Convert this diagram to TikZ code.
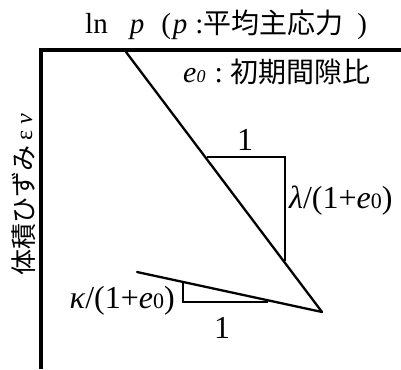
\documentclass[tikz,border=0pt]{standalone}
\usepackage{fontspec}
\setmainfont{Liberation Serif}
\newfontfamily\jp{Noto Sans CJK JP}
\usetikzlibrary{positioning,calc}

\begin{document}
\begin{tikzpicture}[
  x=1pt, y=-1pt,
  axis/.style={line width=4.5pt},
  curve/.style={line width=2.3pt, line cap=round},
  leg/.style={line width=1.1pt},
  lbl/.style={inner sep=0pt, font=\fontsize{32}{32}\selectfont},
  jplbl/.style={inner sep=0pt, font=\fontsize{28}{28}\selectfont}
]
\useasboundingbox (0,0) rectangle (401,369);

% axes
\coordinate (origin) at (41,50);
\coordinate (ybot) at (41,369);
\coordinate (xend) at (401,50);
\draw[axis] (ybot) -- (origin) -- (xend);

% loading and unloading lines
\coordinate (top) at (126,52);
\coordinate (tip) at (322,312);
\coordinate (ustart) at (137,272);
\draw[curve] (top) -- (tip);
\draw[curve] (ustart) -- (tip);

% slope triangles
\coordinate (la) at (207,157);
\coordinate (lb) at (285,157);
\coordinate (lc) at (285,261);
\draw[leg] (la) -- (lb) -- (lc);
\coordinate (ka) at (183,282);
\coordinate (kb) at (183,302);
\coordinate (kc) at (268,302);
\draw[leg] (ka) -- (kb) -- (kc);
\coordinate (lmid) at ($(la)!0.5!(lb)$);
\coordinate (kmid) at ($(kb)!0.5!(kc)$);

% labels
\node[jplbl, anchor=base west, font=\fontsize{29}{29}\selectfont] (xlab) at (85,34)
  {ln\hspace{22pt}\textit{p}\hspace{17pt}(\hspace{2pt}\textit{p}\hspace{8pt}:{\jp\fontsize{28}{28}\selectfont 平均主応力}\hspace{14pt})};
\node[jplbl, anchor=base west, font=\fontsize{30}{30}\selectfont] (voidlab) at (183,82)
  {\textit{e}{\fontsize{18}{18}\selectfont\textit{0}}\hspace{9pt}:\hspace{8pt}{\jp\fontsize{28}{28}\selectfont 初期間隙比}};
\node[jplbl, rotate=90, anchor=base, font=\fontsize{26}{26}\selectfont] (ylab) at (33,195)
  {{\jp 体積ひずみ}\hspace{5pt}{\fontsize{24}{24}\selectfont\raisebox{1pt}{ε}\hspace{6pt}\raisebox{1pt}{\textit{v}}}};
\node[lbl, anchor=base] (lone) at (245,150) {1};
\node[lbl, anchor=base west] (lslope) at (289,208)
  {\textit{λ}/(1+\textit{e}{\fontsize{22}{22}\selectfont 0})};
\node[lbl, anchor=base east] (kslope) at (175,308)
  {\textit{κ}/(1+\textit{e}{\fontsize{22}{22}\selectfont 0})};
\node[lbl, anchor=base] (kone) at (222,338) {1};
\end{tikzpicture}
\end{document}
